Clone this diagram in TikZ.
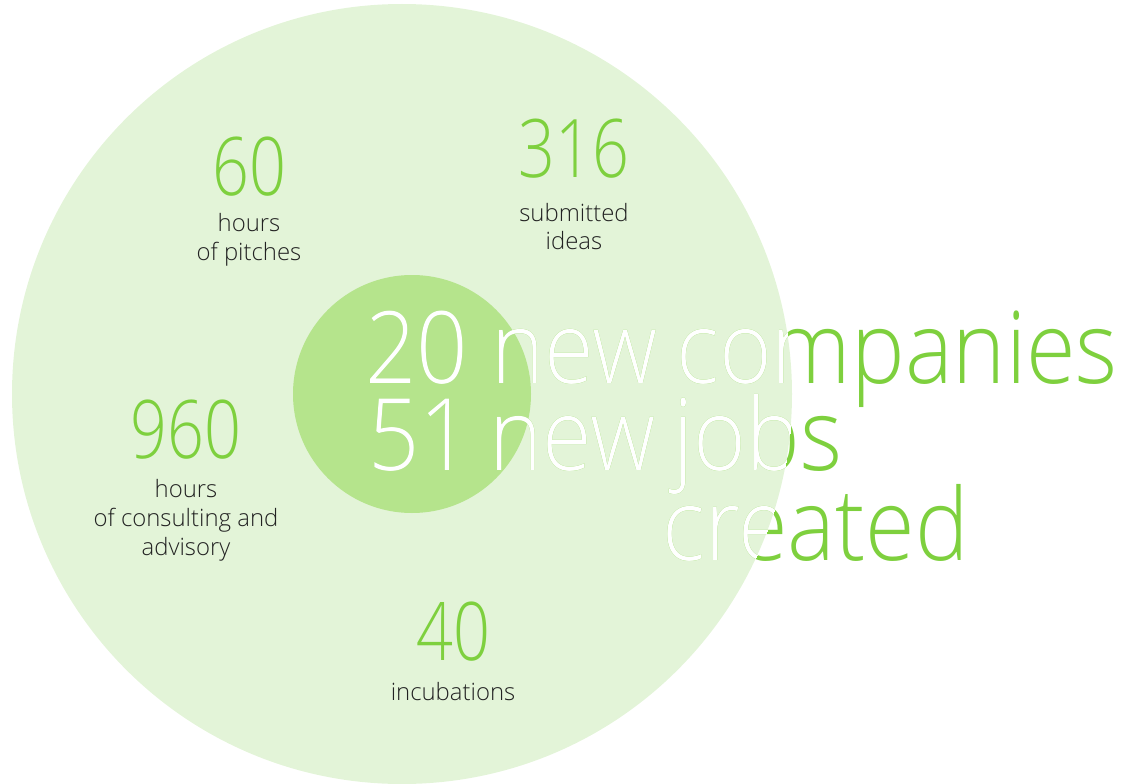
\documentclass[tikz,border=0pt]{standalone}
\usepackage{fontspec}
\setmainfont{Open Sans}[UprightFont=* Light]
\newfontfamily\narrowfont{Open Sans}[UprightFont=* Light,FakeStretch=0.9]
\newfontfamily\digitfont{Open Sans}[UprightFont=* Light,FakeStretch=0.8]
\definecolor{paleGreen}{HTML}{E3F4D8}
\definecolor{midGreen}{HTML}{B5E48C}
\definecolor{leafGreen}{HTML}{7ED03E}
\definecolor{inkGray}{HTML}{222222}

\tikzset{
  figure/.style={text=leafGreen,font=\digitfont\fontsize{46}{46}\selectfont,inner sep=0pt,anchor=base},
  caption/.style={text=inkGray,font=\fontsize{13.6}{16.4}\selectfont,align=center,inner sep=0pt,anchor=base},
  headline/.style={font=\narrowfont\fontsize{57}{57}\selectfont,inner sep=0pt,anchor=base west}
}

% the three headline rows, drawn once in green and once in white
\newcommand\headlines[2]{%
  \node[headline,text=#1] (twenty#2) at (365,383) {20 new};
  \node[headline,text=#1] (companies#2) at (676,383) {companies};
  \node[headline,text=#1] (fiftyone#2) at (368,470) {51\hspace{0.18em}new};
  \node[headline,text=#1] (jobs#2) at (673,470) {jobs};
  \node[headline,text=#1] (created#2) at (662,560) {created};
}

\begin{document}
\begin{tikzpicture}[x=0.02cm,y=-0.02cm]
  \useasboundingbox (0,0) rectangle (1130,784);

  \fill[paleGreen] (402,394) circle (390);
  \fill[midGreen] (412,394) circle (119);

  % numbers, captions sit on the baseline of their last line
  \node[figure] (pitches) at (249,195) {60};
  \node[caption] (pitchesText) at (249,260) {hours\\of pitches};

  \node[figure] (ideas) at (574,177) {316};
  \node[caption] (ideasText) at (574,250) {submitted\\ideas};

  \node[figure] (consulting) at (186,458) {960};
  \node[caption] (consultingText) at (186,555) {hours\\of consulting and\\advisory};

  \node[figure] (incubations) at (453,660) {40};
  \node[caption] (incubationsText) at (453,700) {incubations};

  \headlines{leafGreen}{Out}
  \begin{scope}
    \clip (402,394) circle (390);
    \headlines{white}{In}
  \end{scope}
\end{tikzpicture}
\end{document}
